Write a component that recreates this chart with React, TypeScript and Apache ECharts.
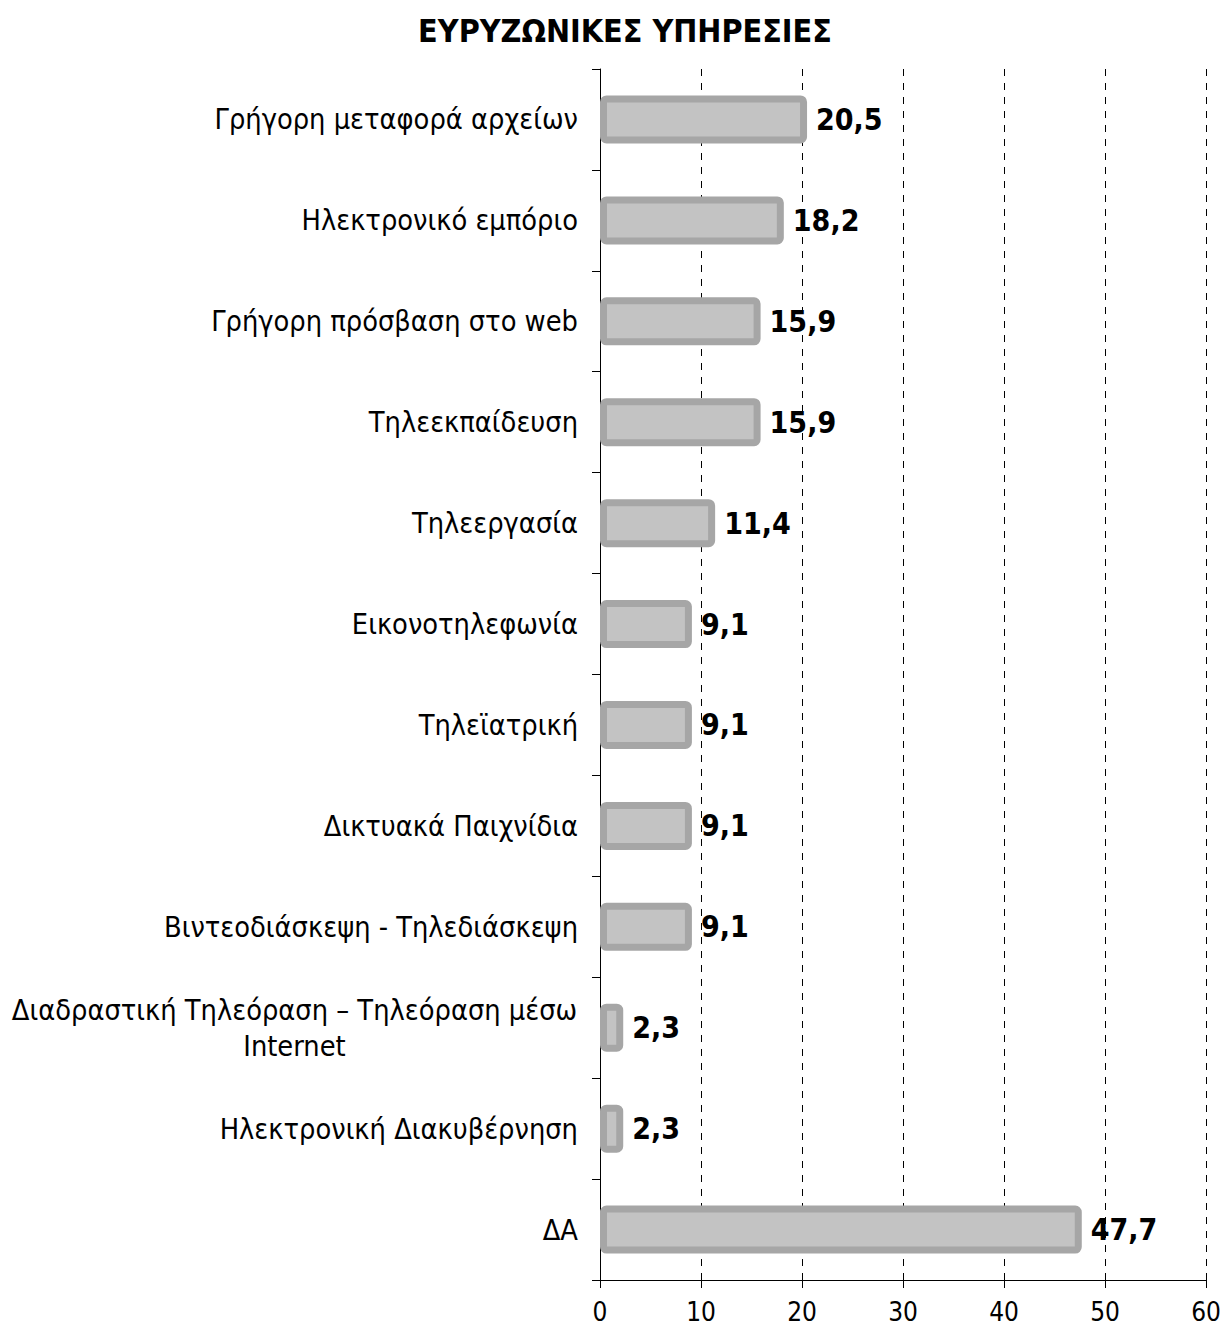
import React, { useEffect, useRef } from "react";
import * as echarts from "echarts";

const title = "ΕΥΡΥΖΩΝΙΚΕΣ ΥΠΗΡΕΣΙΕΣ";
const categories = [
  "Γρήγορη μεταφορά αρχείων",
  "Ηλεκτρονικό εμπόριο",
  "Γρήγορη πρόσβαση στο web",
  "Τηλεεκπαίδευση",
  "Τηλεεργασία",
  "Εικονοτηλεφωνία",
  "Τηλεϊατρική",
  "Δικτυακά Παιχνίδια",
  "Βιντεοδιάσκεψη - Τηλεδιάσκεψη",
  "Διαδραστική Τηλεόραση – Τηλεόραση μέσω\nInternet",
  "Ηλεκτρονική Διακυβέρνηση",
  "ΔΑ",
];
const values = [20.5, 18.2, 15.9, 15.9, 11.4, 9.1, 9.1, 9.1, 9.1, 2.3, 2.3, 47.7];
const xTicks = { min: 0, max: 60, interval: 10 };

const FONT = "'DejaVu Sans Condensed', 'DejaVu Sans', sans-serif";

export default function App() {
  const ref = useRef<HTMLDivElement>(null);
  useEffect(() => {
    if (!ref.current) return;
    const chart = echarts.init(ref.current, undefined, { renderer: "svg" });
    chart.setOption({
      animation: false,
      backgroundColor: "#ffffff",
      title: {
        text: title,
        left: 620,
        top: 10,
        textAlign: "center",
        textStyle: { fontFamily: FONT, fontSize: 32, fontWeight: "bold", color: "#000" },
      },
      grid: { left: 600, right: 19, top: 69, bottom: 50, containLabel: false },
      xAxis: {
        type: "value",
        min: xTicks.min,
        max: xTicks.max,
        interval: xTicks.interval,
        axisLine: { show: true, lineStyle: { color: "#000", width: 1 } },
        axisTick: { show: true, length: 8, lineStyle: { color: "#000" } },
        axisLabel: { fontFamily: FONT, fontSize: 26, color: "#000", margin: 19 },
        splitLine: { show: true, lineStyle: { color: "#000", type: [7, 7], width: 1 } },
      },
      yAxis: {
        type: "category",
        inverse: true,
        data: categories,
        axisLine: { show: true, lineStyle: { color: "#000", width: 1 } },
        axisTick: { show: true, length: 8, lineStyle: { color: "#000" } },
        axisLabel: {
          fontFamily: FONT,
          fontSize: 28.7,
          color: "#000",
          margin: 22,
          lineHeight: 36,
          formatter: (v: string) => {
            if (v.indexOf("\n") >= 0) {
              return v
                .split("\n")
                .map((l) => "{c|" + l + "}")
                .join("\n");
            }
            return v;
          },
          rich: {
            c: { width: 567, align: "center", fontFamily: FONT, fontSize: 28.7, color: "#000", lineHeight: 36 },
          },
        },
        splitLine: { show: false },
      },
      series: [
        {
          type: "bar",
          data: values,
          barWidth: 48,
          itemStyle: {
            color: "#c3c3c3",
            borderColor: "#a6a6a6",
            borderWidth: 7,
            borderJoin: "round",
            borderRadius: 3,
          },
          label: {
            show: true,
            position: "right",
            distance: 9,
            fontFamily: FONT,
            fontSize: 30,
            fontWeight: "bold",
            color: "#000",
            formatter: (p: any) => String(p.value).replace(".", ","),
          },
        },
      ],
    });
    return () => chart.dispose();
  }, []);
  return (
    <div
      ref={ref}
      style={{ position: "absolute", left: 0, top: 0, width: 1225, height: 1330 }}
    />
  );
}
